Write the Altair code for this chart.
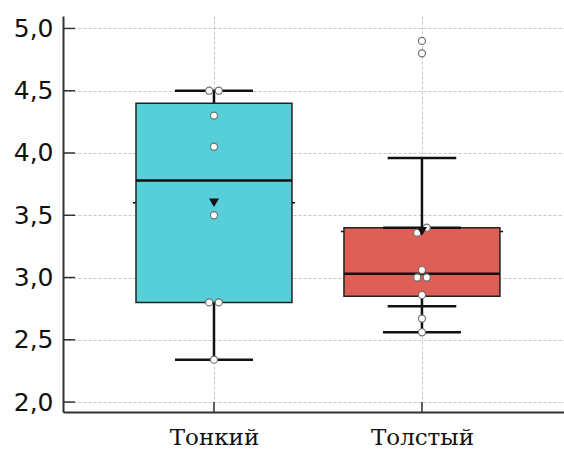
import altair as alt
import pandas as pd

# Groups and summary statistics for each box
groups = ["Тонкий", "Толстый"]
q1 = [2.80, 2.85]
median = [3.78, 3.03]
q3 = [4.40, 3.40]
whisker_lo = [2.34, 2.56]
whisker_hi = [4.50, 3.40]
mean = [3.60, 3.37]
# secondary range bars (only the second group has them)
range_lo = [None, 2.77]
range_hi = [None, 3.96]
colors = ["#56CFD8", "#DE5F56"]

# Individual observations
obs_tonkiy = [4.5, 4.5, 4.3, 4.05, 3.5, 2.8, 2.8, 2.34]
obs_tolstyy = [4.9, 4.8, 3.4, 3.36, 3.06, 3.0, 3.0, 2.86, 2.67, 2.56]

y_ticks = [2.0, 2.5, 3.0, 3.5, 4.0, 4.5, 5.0]

BOX_HALF = 0.375
CAP_HALF = 0.1875
RANGE_CAP_HALF = 0.165
STUB_HALF = 0.39
DODGE = 0.023

W, H = 501, 396
X_DOMAIN = [0.274, 2.683]
Y_DOMAIN = [1.92, 5.1]

summary = pd.DataFrame({
    "group": groups,
    "pos": [i + 1 for i in range(len(groups))],
    "q1": q1, "median": median, "q3": q3,
    "wlo": whisker_lo, "whi": whisker_hi, "mean": mean,
    "color": colors,
})
summary["line_lo"] = [min(a, b) if b is not None else a for a, b in zip(whisker_lo, range_lo)]
summary["line_hi"] = [max(a, b) if b is not None else a for a, b in zip(whisker_hi, range_hi)]

ranges = pd.DataFrame({
    "pos": [i + 1 for i, v in enumerate(range_lo) if v is not None],
    "rlo": [v for v in range_lo if v is not None],
    "rhi": [v for v in range_hi if v is not None],
})


def dodge(values, pos):
    """Spread points with (nearly) equal values side by side."""
    vals = sorted(values, reverse=True)
    clusters, cur = [], [vals[0]]
    for v in vals[1:]:
        if abs(cur[-1] - v) < 0.06:
            cur.append(v)
        else:
            clusters.append(cur)
            cur = [v]
    clusters.append(cur)
    rows = []
    for c in clusters:
        if len(c) == 1:
            offs = [0]
        elif len(c) == 2:
            c = sorted(c)
            offs = [-1, 1]
        else:
            offs = [0] + [(-1) ** (k + 1) * ((k + 1) // 2) for k in range(len(c) - 1)]
        for v, o in zip(c, offs):
            rows.append({"pos": pos, "x": pos + o * DODGE, "value": v})
    return rows


points = pd.DataFrame(dodge(obs_tonkiy, 1) + dodge(obs_tolstyy, 2))

xs = alt.Scale(domain=X_DOMAIN, nice=False, zero=False)
ys = alt.Scale(domain=Y_DOMAIN, nice=False, zero=False)

label_expr = " : ".join(
    f"datum.value == {i + 1} ? '{g}'" for i, g in enumerate(groups)
) + " : ''"

x_axis = alt.Axis(
    values=[1, 2], labelExpr=label_expr, title=None,
    labelFont="DejaVu Serif", labelFontSize=23, labelColor="#111",
    labelPadding=14, tickSize=0, domainColor="#333", domainWidth=2,
    grid=True, gridColor="#c4c4c4", gridDash=[3, 2], gridWidth=1,
)
y_axis = alt.Axis(
    values=y_ticks, labelExpr="replace(format(datum.value, '.1f'), '.', ',')",
    title=None, labelFont="DejaVu Sans", labelFontSize=25, labelColor="#111",
    labelPadding=10, tickSize=0, domainColor="#333", domainWidth=2,
    grid=True, gridColor="#c4c4c4", gridDash=[3, 2], gridWidth=1,
)

base = alt.Chart(summary)

# axes and grid carried by an invisible layer
frame = alt.Chart(pd.DataFrame({"x": [1, 2], "y": [3.0, 3.0]})).mark_point(opacity=0).encode(
    x=alt.X("x:Q", scale=xs, axis=x_axis),
    y=alt.Y("y:Q", scale=ys, axis=y_axis),
)

# inward tick marks
ytick_marks = alt.Chart(pd.DataFrame({"v": y_ticks})).mark_rule(color="#333", strokeWidth=1.5).encode(
    y=alt.Y("v:Q", scale=ys), x=alt.value(0), x2=alt.value(12)
)
xtick_marks = alt.Chart(pd.DataFrame({"p": [1, 2]})).mark_rule(color="#333", strokeWidth=1.5).encode(
    x=alt.X("p:Q", scale=xs), y=alt.value(H), y2=alt.value(H - 10)
)

whisker = base.mark_rule(color="#111", strokeWidth=2.5).encode(
    x=alt.X("pos:Q", scale=xs), y=alt.Y("line_lo:Q", scale=ys), y2="line_hi:Q"
)

mean_stub = base.transform_calculate(
    a=f"datum.pos - {STUB_HALF}", b=f"datum.pos + {STUB_HALF}"
).mark_rule(color="#111", strokeWidth=1.5).encode(
    x=alt.X("a:Q", scale=xs), x2="b:Q", y=alt.Y("mean:Q", scale=ys)
)

box = base.transform_calculate(
    a=f"datum.pos - {BOX_HALF}", b=f"datum.pos + {BOX_HALF}"
).mark_rect(stroke="#222", strokeWidth=1.5).encode(
    x=alt.X("a:Q", scale=xs), x2="b:Q",
    y=alt.Y("q1:Q", scale=ys), y2="q3:Q",
    color=alt.Color("color:N", scale=None),
)

med = base.transform_calculate(
    a=f"datum.pos - {BOX_HALF}", b=f"datum.pos + {BOX_HALF}"
).mark_rule(color="#111", strokeWidth=2.5).encode(
    x=alt.X("a:Q", scale=xs), x2="b:Q", y=alt.Y("median:Q", scale=ys)
)

caps_df = base.transform_fold(["wlo", "whi"], as_=["k", "v"]).transform_calculate(
    a=f"datum.pos - {CAP_HALF}", b=f"datum.pos + {CAP_HALF}"
)
caps = caps_df.mark_rule(color="#111", strokeWidth=2.5).encode(
    x=alt.X("a:Q", scale=xs), x2="b:Q", y=alt.Y("v:Q", scale=ys)
)

rcaps = alt.Chart(ranges).transform_fold(["rlo", "rhi"], as_=["k", "v"]).transform_calculate(
    a=f"datum.pos - {RANGE_CAP_HALF}", b=f"datum.pos + {RANGE_CAP_HALF}"
).mark_rule(color="#111", strokeWidth=2.5).encode(
    x=alt.X("a:Q", scale=xs), x2="b:Q", y=alt.Y("v:Q", scale=ys)
)

pts = alt.Chart(points).mark_point(
    shape="circle", filled=True, fill="white", stroke="#707070", strokeWidth=1.2, size=50, opacity=1
).encode(
    x=alt.X("x:Q", scale=xs), y=alt.Y("value:Q", scale=ys)
)

mean_mark = base.mark_point(
    shape="triangle-down", filled=True, color="#111", size=100, opacity=1
).encode(
    x=alt.X("pos:Q", scale=xs), y=alt.Y("mean:Q", scale=ys)
)

chart = alt.layer(
    frame, whisker, mean_stub, box, med, caps, rcaps, ytick_marks, xtick_marks, pts, mean_mark
).properties(
    width=W, height=H,
    autosize=alt.AutoSizeParams(type="none"),
    padding={"left": 63, "top": 16, "right": 0, "bottom": 37},
    background="white",
).configure_view(stroke=None)

chart.save("out.html", embed_options={"renderer": "svg", "actions": False})
